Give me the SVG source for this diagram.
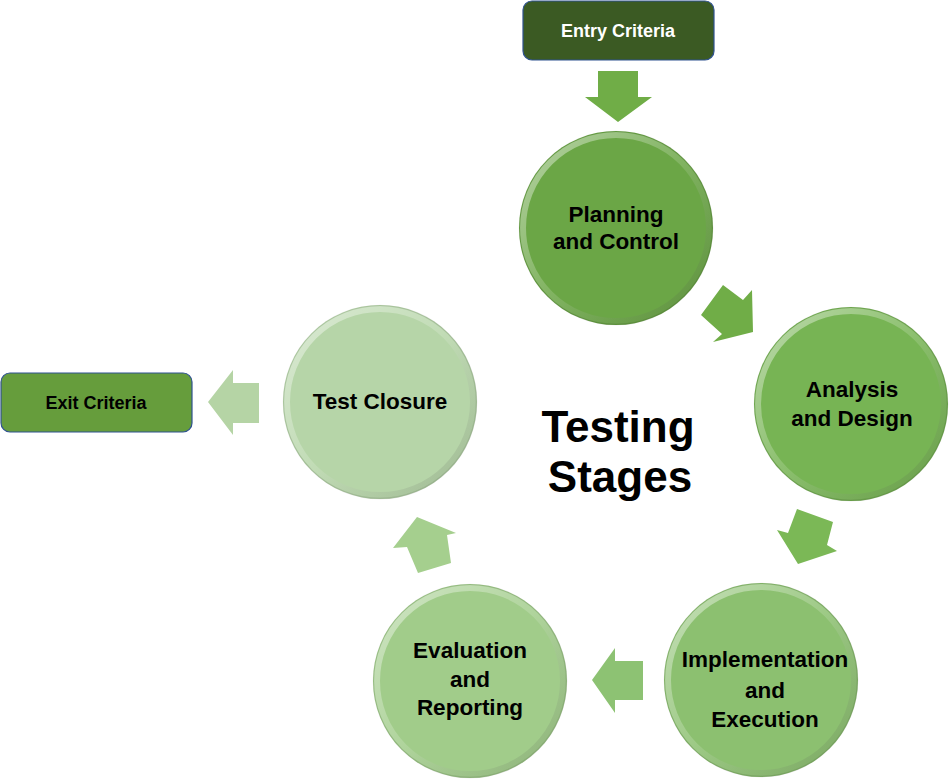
<svg xmlns="http://www.w3.org/2000/svg" width="950" height="779" viewBox="0 0 950 779">
  <defs>
    <linearGradient id="rim" x1="0" y1="0" x2="1" y2="1">
      <stop offset="0" stop-color="#ffffff" stop-opacity="0.5"/>
      <stop offset="0.5" stop-color="#ffffff" stop-opacity="0.15"/>
      <stop offset="1" stop-color="#000000" stop-opacity="0.12"/>
    </linearGradient>
    <linearGradient id="rim2" x1="0" y1="0" x2="1" y2="1">
      <stop offset="0" stop-color="#000000" stop-opacity="0.05"/>
      <stop offset="1" stop-color="#000000" stop-opacity="0.16"/>
    </linearGradient>
  </defs>
  <style>
    .lbl { font-family: "Liberation Sans", Arial, sans-serif; font-weight: bold; font-size: 22.5px; fill: #000; text-anchor: middle; }
    .box { font-family: "Liberation Sans", Arial, sans-serif; font-weight: bold; font-size: 18px; text-anchor: middle; }
    .title { font-family: "Liberation Sans", Arial, sans-serif; font-weight: bold; font-size: 44px; fill: #000; text-anchor: middle; }
    .edge { fill: none; stroke: url(#rim2); stroke-width: 1.5; }
    .bevel { fill: none; stroke: url(#rim); stroke-width: 6; }
    .crit { stroke: #2F528F; stroke-width: 1.2; }
  </style>

  <g id="connectors">
    <polygon points="598,71 638,71 638,97 652,97 618,122 585,97 598,97" fill="#70AD47"/>
    <polygon points="723,285 743,300 752,290 753,332 713,342 722,334 701,315" fill="#70AD47"/>
    <polygon points="797,509 833,522 827,545 837,551 798,564 777,530 788,533" fill="#7BB856"/>
    <polygon points="643,661 643,700 615,700 615,713 592,680 615,648 615,661" fill="#8DC273"/>
    <polygon points="417,517 456,533 447,535 451,563 418,573 407,547 393,548" fill="#A5CF8E"/>
    <polygon points="259,383 259,423 233,423 233,435 208,402 233,370 233,383" fill="#B5D4A5"/>
  </g>

  <g id="entry">
    <rect x="523" y="1" width="191" height="59" rx="9" fill="#3B5A23" class="crit"/>
    <text x="618" y="37" class="box" style="fill:#ffffff">Entry Criteria</text>
  </g>

  <g id="exit">
    <rect x="1" y="373" width="191" height="59" rx="9" fill="#669D3C" class="crit"/>
    <text x="96" y="409" class="box" style="fill:#000000">Exit Criteria</text>
  </g>

  <g id="planning">
    <circle cx="616" cy="228" r="97" fill="#6BA646"/>
    <circle cx="616" cy="228" r="93" class="bevel"/>
    <circle cx="616" cy="228" r="96.5" class="edge"/>
    <text x="616" y="222" class="lbl">Planning</text>
    <text x="616" y="249" class="lbl">and Control</text>
  </g>

  <g id="analysis">
    <circle cx="851" cy="404" r="97" fill="#77B454"/>
    <circle cx="851" cy="404" r="93" class="bevel"/>
    <circle cx="851" cy="404" r="96.5" class="edge"/>
    <text x="852" y="397" class="lbl">Analysis</text>
    <text x="852" y="426" class="lbl">and Design</text>
  </g>

  <g id="implementation">
    <circle cx="761" cy="680" r="97" fill="#8CC070"/>
    <circle cx="761" cy="680" r="93" class="bevel"/>
    <circle cx="761" cy="680" r="96.5" class="edge"/>
    <text x="765" y="667" class="lbl">Implementation</text>
    <text x="765" y="698" class="lbl">and</text>
    <text x="765" y="727" class="lbl">Execution</text>
  </g>

  <g id="evaluation">
    <circle cx="470" cy="681" r="97" fill="#A1CC8A"/>
    <circle cx="470" cy="681" r="93" class="bevel"/>
    <circle cx="470" cy="681" r="96.5" class="edge"/>
    <text x="470" y="658" class="lbl">Evaluation</text>
    <text x="470" y="687" class="lbl">and</text>
    <text x="470" y="715" class="lbl">Reporting</text>
  </g>

  <g id="closure">
    <circle cx="380" cy="402" r="97" fill="#B6D5A8"/>
    <circle cx="380" cy="402" r="93" class="bevel"/>
    <circle cx="380" cy="402" r="96.5" class="edge"/>
    <text x="380" y="409" class="lbl">Test Closure</text>
  </g>

  <g id="title">
    <text x="618" y="442" class="title">Testing</text>
    <text x="620" y="492" class="title">Stages</text>
  </g>
</svg>
